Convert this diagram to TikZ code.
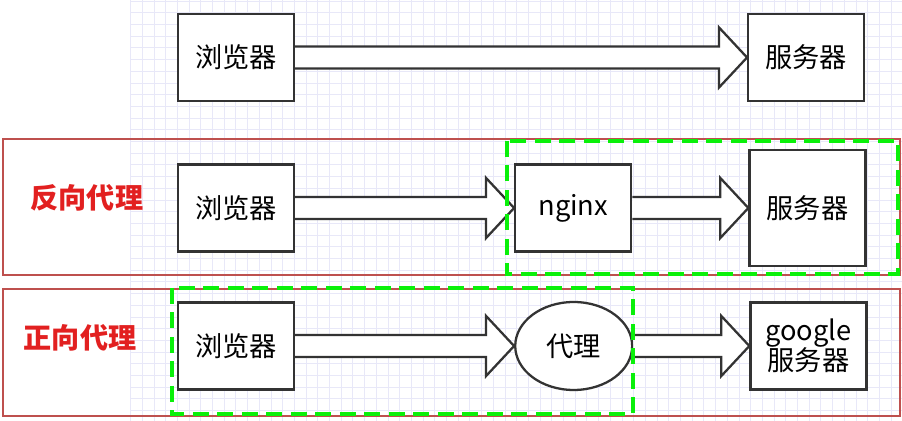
\documentclass[tikz,border=0pt]{standalone}
\usepackage{fontspec}
\setmainfont{Noto Sans CJK SC}
\usetikzlibrary{positioning, calc, shapes.geometric}

\definecolor{edge}{RGB}{51,51,51}
\definecolor{groupred}{RGB}{190,80,78}
\definecolor{tagred}{RGB}{226,32,32}
\definecolor{zonegreen}{RGB}{10,240,10}
\definecolor{gridblue}{RGB}{232,232,248}

% fat open arrow from one node to the next
\newcommand{\fatarrow}[2]{%
    \path[fat] let \p1=(#1.east), \p2=(#2.west) in
        (\x1,\y1+0.22cm) -- (\x2-0.56cm,\y1+0.22cm) -- (\x2-0.56cm,\y1+0.6cm)
        -- (\x2,\y1) -- (\x2-0.56cm,\y1-0.6cm) -- (\x2-0.56cm,\y1-0.22cm)
        -- (\x1,\y1-0.22cm);
}

\begin{document}
\begin{tikzpicture}[
        x=0.02cm, y=-0.02cm,
        box/.style={rectangle, draw=edge, line width=1.3pt, fill=white, minimum width=2.32cm, minimum height=1.74cm, align=center, inner sep=2pt, font=\fontsize{15.5}{17}\selectfont},
        proxy/.style={ellipse, draw=edge, line width=1.3pt, fill=white, minimum width=2.34cm, minimum height=1.76cm, inner sep=0pt, font=\fontsize{15.5}{17}\selectfont},
        fat/.style={draw=edge, line width=1.3pt, fill=white},
        group/.style={draw=groupred, line width=1.2pt},
        zone/.style={draw=zonegreen, line width=2pt, dash pattern=on 0.32cm off 0.17cm},
        tag/.style={text=tagred, font=\fontsize{16}{18}\selectfont\bfseries},
        gridline/.style={draw=gridblue, line width=0.4pt}
    ]
        \useasboundingbox[fill=white] (0,0) rectangle (902,421);

        % Grid
        \foreach \gx in {130.5,142.2,...,902} \draw[gridline] (\gx,0) -- (\gx,421);
        \foreach \gy in {1,12.7,...,421} \draw[gridline] (130,\gy) -- (902,\gy);

        % Groups
        \draw[group] (3,139) rectangle (900,275);
        \draw[group] (3,289) rectangle (900,416);
        \node[tag] (rev) at (87,198) {反向代理};
        \node[tag] (fwd) at (80,338) {正向代理};

        % Direct access
        \node[box] (b1) at (236,57.5) {浏览器};
        \node[box, right=9.04cm of b1] (s1) {服务器};

        % Reverse proxy
        \node[box] (b2) at (236,208) {浏览器};
        \node[box, right=4.38cm of b2] (ng) {nginx};
        \node[box, minimum height=2.32cm, right=2.32cm of ng] (s2) {服务器};

        % Forward proxy
        \node[box] (b3) at (236,346) {浏览器};
        \node[proxy, right=4.38cm of b3] (px) {代理};
        \node[box, right=2.32cm of px] (s3) {google\\服务器};

        % Arrows
        \fatarrow{b1}{s1}
        \fatarrow{b2}{ng}
        \fatarrow{ng}{s2}
        \fatarrow{b3}{px}
        \fatarrow{px}{s3}

        % Zones
        \draw[zone] (507,141) rectangle (898,274);
        \draw[zone] (172,288) rectangle (633,414);
    \end{tikzpicture}
\end{document}
